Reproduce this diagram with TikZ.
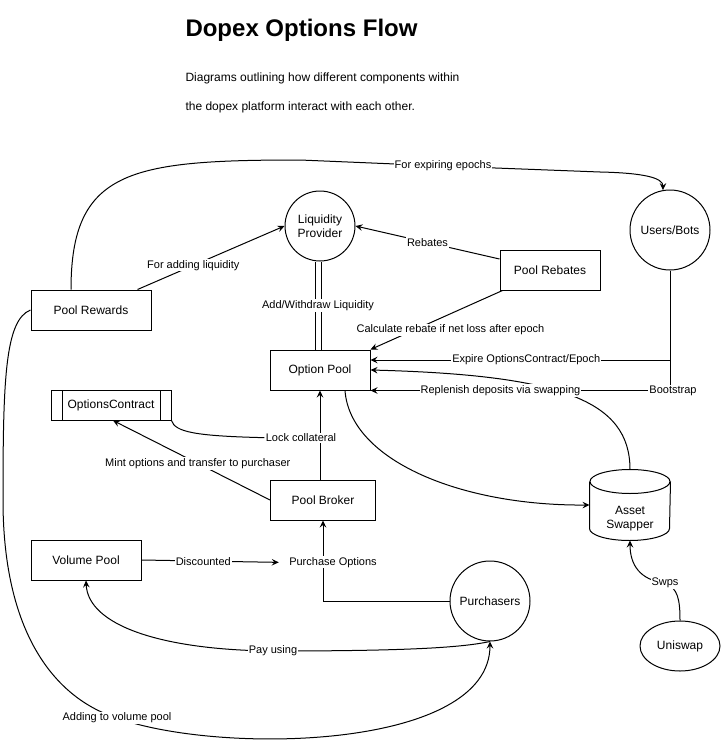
\documentclass[tikz,border=0pt]{standalone}
\usepackage{fontspec}
\setmainfont{Liberation Sans}
\usetikzlibrary{arrows.meta,shapes.geometric}

\begin{document}
\begin{tikzpicture}[x=1pt,y=-1pt,line width=1pt,
    arr/.style={-{Stealth[length=7pt,width=6.5pt,inset=2.5pt]}},
    flowbox/.style={draw,rectangle,minimum height=40pt,inner sep=0pt,font=\nodefontsize},
    roundnode/.style={draw,circle,inner sep=0pt,align=center,font=\nodefontsize},
    ovalnode/.style={draw,ellipse,inner sep=0pt,font=\nodefontsize},
    procbox/.style={flowbox,minimum height=30pt,path picture={
        \draw ([xshift=11pt]path picture bounding box.north west) -- ([xshift=11pt]path picture bounding box.south west);
        \draw ([xshift=-11pt]path picture bounding box.north east) -- ([xshift=-11pt]path picture bounding box.south east);}},
    lbl/.style={fill=white,inner sep=1pt,font=\labelfontsize}]
    \providecommand{\nodefontsize}{\fontsize{12}{14}\selectfont}
    \providecommand{\labelfontsize}{\fontsize{11}{13}\selectfont}
    \providecommand{\titlefontsize}{\fontsize{24}{28}\selectfont\bfseries}
    \useasboundingbox (0,0) rectangle (721,741);

    \node[anchor=base west,inner sep=0pt,font=\titlefontsize] (title) at (185,37) {Dopex Options Flow};
    \node[anchor=base west,inner sep=0pt,font=\nodefontsize] (intro1) at (185,82) {Diagrams outlining how different components within};
    \node[anchor=base west,inner sep=0pt,font=\nodefontsize] (intro2) at (185,111) {the dopex platform interact with each other.};

    \node[flowbox,minimum width=120pt] (rewards) at (91,310) {Pool Rewards};
    \node[roundnode,minimum size=70pt] (lp) at (320,226) {Liquidity\\Provider};
    \node[roundnode,minimum size=80pt] (users) at (670,230) {Users/Bots};
    \node[flowbox,minimum width=100pt] (rebates) at (550,270) {Pool Rebates};
    \node[flowbox,minimum width=100pt] (pool) at (320,370) {Option Pool};
    \node[procbox,minimum width=120pt] (contract) at (111,405) {OptionsContract};
    \node[flowbox,minimum width=105pt] (broker) at (323,500) {Pool Broker};
    \node[flowbox,minimum width=110pt] (volume) at (86,560) {Volume Pool};
    \node[roundnode,minimum size=80pt] (buyers) at (490,601) {Purchasers};
    \node[ovalnode,minimum width=80pt,minimum height=50pt] (uniswap) at (680,646) {Uniswap};
    % cylinder for the swapper
    \node[minimum width=80pt,minimum height=70pt,inner sep=0pt] (swapper) at (630,505) {};
    \draw ([yshift=-12pt]swapper.north) ellipse [x radius=40pt,y radius=12pt];
    \draw ([yshift=-12pt]swapper.north west) -- ([yshift=12pt]swapper.south west)
        arc [start angle=180,end angle=360,x radius=40pt,y radius=12pt] -- ([yshift=-12pt]swapper.north east);
    \node[font=\nodefontsize,align=center] (swappertext) at ([yshift=-14pt]swapper.center) {Asset\\Swapper};

    \draw[arr] ([xshift=-20pt]rewards.north) .. controls (71,170) and (130,160) .. (300,160)
        -- (443,166) node[lbl] (expirylbl) {For expiring epochs}
        -- (600,172) .. controls (645,173) and (663,178) .. (users.100);
    \draw[arr] ([xshift=-14pt]rewards.north east) -- (lp.west) node[lbl,pos=.38] {For adding liquidity};
    \draw[arr] (rewards.west) .. controls (5,320) and (3,380) .. (3,500)
        .. controls (3,640) and (60,700) .. (117,718) node[lbl] (addlbl) {Adding to volume pool}
        .. controls (220,755) and (490,750) .. (buyers.south);
    \draw[arr] (buyers.south) .. controls (460,648) and (400,651) .. (273,651) node[lbl] (paylbl) {Pay using}
        .. controls (160,650) and (88,625) .. (volume.south);

    \draw[arr] ([yshift=11pt]rebates.west) -- (lp.east) node[lbl,pos=.5] {Rebates};
    \draw[arr] ([xshift=3pt]rebates.south west) -- (pool.north east) node[lbl,pos=.667,xshift=36pt] {Calculate rebate if net loss after epoch};
    \draw[double,double distance=5pt] ([xshift=-2pt]lp.south) -- ([xshift=-2pt]pool.north) node[lbl,pos=.5] {Add/Withdraw Liquidity};

    \draw[arr] (swapper.north) .. controls (630,400) and (560,375) .. (pool.east);
    \draw[arr] (users.south) |- ([yshift=10pt]pool.east) node[lbl,pos=.74] {Expire OptionsContract/Epoch};
    \draw[arr] (users.south) |- (pool.south east) node[lbl,pos=.5,xshift=3pt] {Bootstrap}
        node[lbl,pos=.783] {Replenish deposits via swapping};
    \draw[arr] ([xshift=25pt]pool.south) .. controls (350,460) and (460,506) .. (swapper.west);

    \draw[arr] (pool.south |- broker.north) -- (pool.south) node[lbl,pos=.47,xshift=-19pt] (locklbl) {Lock collateral};
    \draw (contract.south east) .. controls (175,432) and (195,436) .. (locklbl.west);
    \draw[arr] (broker.west) -- ([xshift=2pt]contract.south) node[lbl,pos=.46] {Mint options and transfer to purchaser};
    \draw[arr] (buyers.west) -| (broker.south) node[lbl,pos=.74,xshift=10pt] (purchlbl) {Purchase Options};
    \draw[arr] (volume.east) -- ([xshift=-9pt]purchlbl.west) node[lbl,pos=.45] {Discounted};
    \draw[arr] (uniswap.north) .. controls (680,600) and (678,588) .. (665,583) node[lbl] (swpslbl) {Swps}
        .. controls (640,580) and (630,565) .. (swapper.south);
\end{tikzpicture}
\end{document}
